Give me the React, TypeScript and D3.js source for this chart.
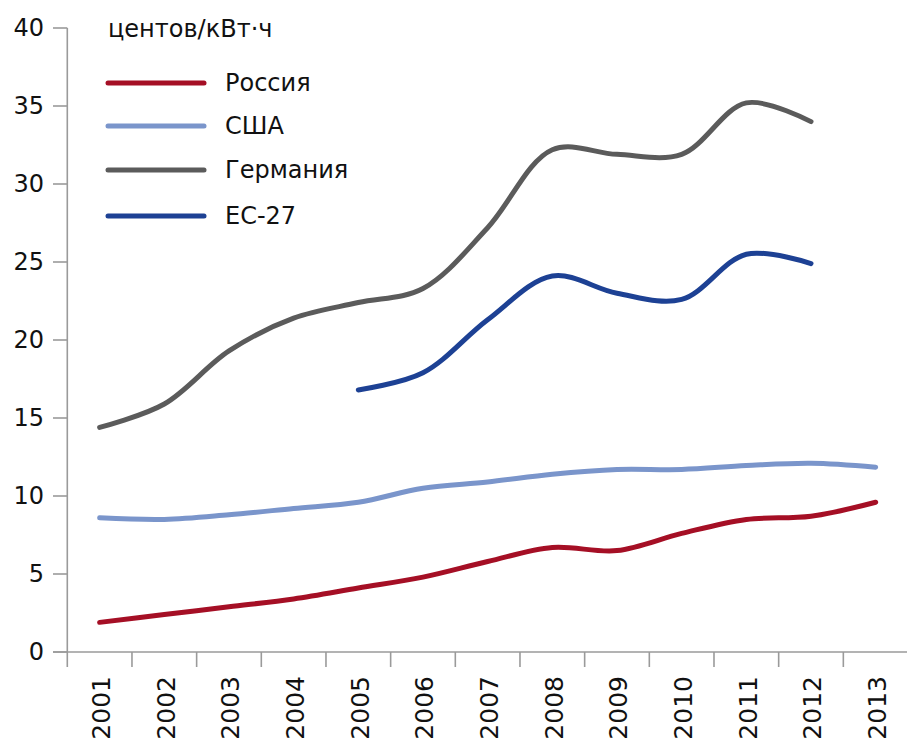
import React from "react";
import * as d3 from "d3";

const years = ["2001","2002","2003","2004","2005","2006","2007","2008","2009","2010","2011","2012","2013"];
const russia = [1.9, 2.4, 2.9, 3.4, 4.1, 4.8, 5.8, 6.7, 6.5, 7.6, 8.5, 8.7, 9.6];
const usa = [8.6, 8.5, 8.8, 9.2, 9.6, 10.5, 10.9, 11.4, 11.7, 11.7, 11.95, 12.1, 11.85];
const germany = [14.4, 15.9, 19.3, 21.4, 22.4, 23.3, 27.2, 32.2, 31.9, 31.9, 35.2, 34.0, null];
const eu27 = [null, null, null, null, 16.8, 17.9, 21.3, 24.1, 23.0, 22.6, 25.5, 24.9, null];
const yTicks = [0, 5, 10, 15, 20, 25, 30, 35, 40];
const unitLabel = "центов/кВт·ч";

const seriesNames = ["Россия", "США", "Германия", "ЕС-27"];
const seriesColors = ["#a50f25", "#7a95cb", "#5b5b5b", "#1d4194"];
const seriesData = [russia, usa, germany, eu27];

export default function App() {
  const W = 907, H = 745;
  const x = d3.scaleBand<string>().domain(years).range([67.3, 908]).padding(0);
  const y = d3.scaleLinear().domain([0, 40]).range([652, 28]);
  const cx = (yr: string) => (x(yr) as number) + x.bandwidth() / 2;
  const axisColor = "#9a9a9a";
  const font = "DejaVu Sans, sans-serif";

  const line = d3
    .line<[string, number | null]>()
    .defined((d) => d[1] != null)
    .x((d) => cx(d[0]))
    .y((d) => y(d[1] as number))
    .curve(d3.curveCatmullRom.alpha(0.5));

  return (
    <svg width={W} height={H} style={{ position: "absolute", left: 0, top: 0, background: "#fff" }}>
      {/* y axis */}
      <line x1={67.3} x2={67.3} y1={y(40)} y2={667} stroke={axisColor} strokeWidth={1.6} />
      {yTicks.map((t) => (
        <g key={t}>
          <line x1={53} x2={67.3} y1={y(t)} y2={y(t)} stroke={axisColor} strokeWidth={1.6} />
          <text x={44} y={y(t)} textAnchor="end" dominantBaseline="central" fontFamily={font} fontSize={24} fill="#111">
            {t}
          </text>
        </g>
      ))}
      {/* x axis */}
      <line x1={53} x2={907} y1={y(0)} y2={y(0)} stroke={axisColor} strokeWidth={1.6} />
      {years.slice(1).map((yr) => (
        <line key={yr} x1={x(yr) as number} x2={x(yr) as number} y1={y(0)} y2={667} stroke={axisColor} strokeWidth={1.6} />
      ))}
      {years.map((yr) => (
        <text
          key={yr}
          transform={`translate(${cx(yr) + 2},676) rotate(-90)`}
          textAnchor="end"
          dominantBaseline="central"
          fontFamily={font}
          fontSize={25}
          fill="#111"
        >
          {yr}
        </text>
      ))}
      {/* series */}
      {seriesData.map((vals, i) => (
        <path
          key={seriesNames[i]}
          d={line(years.map((yr, j) => [yr, vals[j]] as [string, number | null])) || ""}
          fill="none"
          stroke={seriesColors[i]}
          strokeWidth={5}
          strokeLinecap="round"
          strokeLinejoin="round"
        />
      ))}
      {/* unit label */}
      <text x={108} y={37} fontFamily={font} fontSize={24} fill="#111">
        {unitLabel}
      </text>
      {/* legend */}
      {seriesNames.map((n, i) => {
        const ly = [83, 126, 170, 216][i];
        return (
          <g key={n}>
            <line x1={108} x2={204} y1={ly} y2={ly} stroke={seriesColors[i]} strokeWidth={5} strokeLinecap="round" />
            <text x={225} y={ly} dominantBaseline="central" fontFamily={font} fontSize={24} fill="#111">
              {n}
            </text>
          </g>
        );
      })}
    </svg>
  );
}
